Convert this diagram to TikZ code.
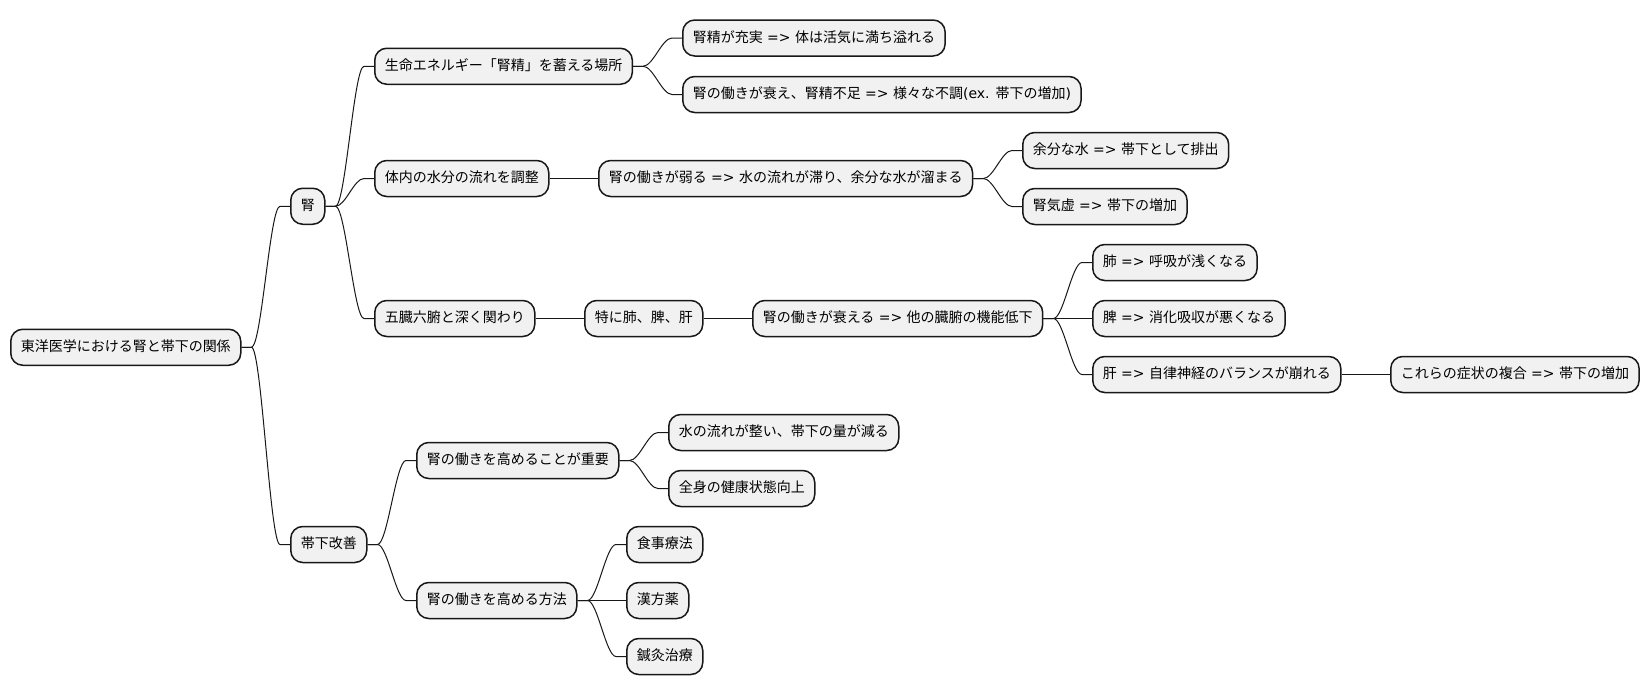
\documentclass[tikz,border=0pt]{standalone}
\usepackage{fontspec}
\newfontfamily\cjk{Noto Sans CJK JP}
\newfontfamily\latfont{DejaVu Sans}
\newcommand\latn[1]{{\latfont #1}}
\definecolor{boxfill}{HTML}{F1F1F1}
\definecolor{ink}{HTML}{181818}
\tikzset{
  mm/.style={draw=ink, line width=1.5pt, fill=boxfill, rounded corners=12pt,
    anchor=west, minimum height=36pt, inner xsep=10pt, inner ysep=0pt,
    text height=11pt, text depth=2.5pt, text=black,
    font=\cjk\fontsize{14pt}{17pt}\selectfont},
  link/.style={draw=ink, line width=1pt,
    to path={-- ++(10pt,0) .. controls +(10pt,0) and +(-10pt,0) .. ([xshift=-10pt]\tikztotarget) -- (\tikztotarget)}}
}
\begin{document}
\begin{tikzpicture}[x=1pt,y=-1pt]
\useasboundingbox (0,0) rectangle (1650,696);
% root
\node[mm] (root) at (10,347.25) {東洋医学における腎と帯下の関係};
% level 1
\node[mm] (kid) at (290,206.25) {腎};
\node[mm] (obi) at (290,544.5) {帯下改善};
% kid branch
\node[mm] (n1) at (374,66.25) {生命エネルギー「腎精」を蓄える場所};
\node[mm] (n1a) at (682,38) {腎精が充実\latn{ => }体は活気に満ち溢れる};
\node[mm] (n1b) at (682,94.5) {腎の働きが衰え、腎精不足\latn{ => }様々な不調\latn{(ex. }帯下の増加\latn{)}};
\node[mm] (n2) at (374,178.5) {体内の水分の流れを調整};
\node[mm] (n2x) at (598,178.5) {腎の働きが弱る\latn{ => }水の流れが滞り、余分な水が溜まる};
\node[mm] (n2a) at (1022,150.5) {余分な水\latn{ => }帯下として排出};
\node[mm] (n2b) at (1022,206.5) {腎気虚\latn{ => }帯下の増加};
\node[mm] (n3) at (374,318.5) {五臓六腑と深く関わり};
\node[mm] (n3y) at (584,318.5) {特に肺、脾、肝};
\node[mm] (n3x) at (752,318.5) {腎の働きが衰える\latn{ => }他の臓腑の機能低下};
\node[mm] (n3a) at (1092,262.5) {肺\latn{ => }呼吸が浅くなる};
\node[mm] (n3b) at (1092,318.5) {脾\latn{ => }消化吸収が悪くなる};
\node[mm] (n3c) at (1092,374.5) {肝\latn{ => }自律神経のバランスが崩れる};
\node[mm] (n3d) at (1390,374.5) {これらの症状の複合\latn{ => }帯下の増加};
% obi branch
\node[mm] (b1) at (416,460.5) {腎の働きを高めることが重要};
\node[mm] (b1a) at (668,432.5) {水の流れが整い、帯下の量が減る};
\node[mm] (b1b) at (668,488.5) {全身の健康状態向上};
\node[mm] (b2) at (416,600.5) {腎の働きを高める方法};
\node[mm] (b2a) at (626,544.5) {食事療法};
\node[mm] (b2b) at (626,600.5) {漢方薬};
\node[mm] (b2c) at (626,656.5) {鍼灸治療};
% links
\draw[link] (root.east) to (kid.west);
\draw[link] (root.east) to (obi.west);
\draw[link] (kid.east) to (n1.west);
\draw[link] (kid.east) to (n2.west);
\draw[link] (kid.east) to (n3.west);
\draw[link] (n1.east) to (n1a.west);
\draw[link] (n1.east) to (n1b.west);
\draw[link] (n2.east) to (n2x.west);
\draw[link] (n2x.east) to (n2a.west);
\draw[link] (n2x.east) to (n2b.west);
\draw[link] (n3.east) to (n3y.west);
\draw[link] (n3y.east) to (n3x.west);
\draw[link] (n3x.east) to (n3a.west);
\draw[link] (n3x.east) to (n3b.west);
\draw[link] (n3x.east) to (n3c.west);
\draw[link] (n3c.east) to (n3d.west);
\draw[link] (obi.east) to (b1.west);
\draw[link] (obi.east) to (b2.west);
\draw[link] (b1.east) to (b1a.west);
\draw[link] (b1.east) to (b1b.west);
\draw[link] (b2.east) to (b2a.west);
\draw[link] (b2.east) to (b2b.west);
\draw[link] (b2.east) to (b2c.west);
\end{tikzpicture}
\end{document}
